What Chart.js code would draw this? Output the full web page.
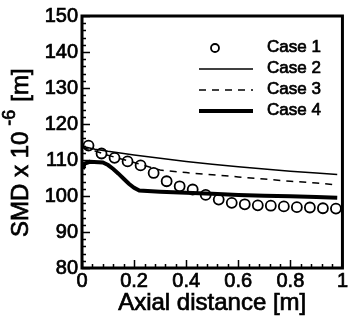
<!DOCTYPE html>
<html>
<head>
<meta charset="utf-8">
<script src="https://cdn.jsdelivr.net/npm/chart.js@4/dist/chart.umd.min.js"></script>
<style>
    html, body { margin: 0; padding: 0; background: #fff; }
    #wrap { width: 349px; height: 322px; position: relative; }
</style>
</head>
<body>
<div id="wrap"><canvas id="smdChart"></canvas></div>
<script>
// data
const case1X = [0.025, 0.075, 0.125, 0.175, 0.225, 0.275, 0.325, 0.375, 0.425, 0.475,
                0.525, 0.575, 0.625, 0.675, 0.725, 0.775, 0.825, 0.875, 0.925, 0.975];
const case1Y = [114.0, 111.8, 110.6, 109.6, 108.5, 106.4, 104.1, 102.7, 101.8, 100.3,
                99.0, 98.1, 97.7, 97.4, 97.3, 97.1, 96.9, 96.8, 96.6, 96.5];

const case2X = [0, 0.05, 0.1, 0.2, 0.3, 0.4, 0.5, 0.6, 0.7, 0.8, 0.9, 0.98];
const case2Y = [113.8, 113.0, 112.4, 111.4, 110.5, 109.6, 108.8, 108.1, 107.5, 106.9, 106.4, 106.0];

const case3X = [0, 0.05, 0.1, 0.2, 0.3, 0.4, 0.5, 0.6, 0.7, 0.8, 0.9, 0.98];
const case3Y = [113.5, 112.5, 111.3, 109.3, 107.2, 106.5, 105.9, 105.3, 104.7, 104.1, 103.6, 103.1];

const case4X = [0.003, 0.01, 0.03, 0.08, 0.1, 0.12, 0.14, 0.16, 0.18, 0.2, 0.22,
                0.3, 0.4, 0.5, 0.6, 0.7, 0.8, 0.9, 0.98];
const case4Y = [107.5, 109.0, 109.5, 109.3, 108.6, 107.5, 106.2, 104.8, 103.4, 102.3, 101.5,
                101.2, 100.9, 100.6, 100.3, 100.1, 99.9, 99.7, 99.5];

const seriesNames = ['Case 1', 'Case 2', 'Case 3', 'Case 4'];

const xTicks = [0, 0.2, 0.4, 0.6, 0.8, 1];
const xTickLabels = ['0', '0.2', '0.4', '0.6', '0.8', '1'];
const yTicks = [80, 90, 100, 110, 120, 130, 140, 150];
const yTickLabels = ['80', '90', '100', '110', '120', '130', '140', '150'];

const FONT = '"Liberation Sans", Arial, Helvetica, sans-serif';
const TEXT_STROKE = 0.7;

function toPoints(xs, ys) {
    return xs.map((x, i) => ({ x: x, y: ys[i] }));
}

// text with a light outline so it looks as heavy as the scanned original
function heavyText(ctx, str, x, y) {
    ctx.lineWidth = TEXT_STROKE;
    ctx.strokeText(str, x, y);
    ctx.fillText(str, x, y);
}

// frame, inward ticks, axis titles, legend
const decorPlugin = {
    id: 'decor',
    afterDraw(chart) {
        const { ctx, chartArea: a } = chart;
        const xs = chart.scales.x, ys = chart.scales.y;
        ctx.save();
        ctx.strokeStyle = '#000';
        ctx.fillStyle = '#000';

        // minor / major ticks pointing inside
        ctx.lineWidth = 1.5;
        ctx.beginPath();
        for (let v = 80; v <= 150; v += 2) {
            const py = Math.round(ys.getPixelForValue(v)) + 0.5;
            const len = (v % 10 === 0) ? 8 : 4;
            ctx.moveTo(a.left, py);
            ctx.lineTo(a.left + len, py);
        }
        for (let k = 0; k <= 25; k++) {
            const v = k * 0.04;
            const px = Math.round(xs.getPixelForValue(v)) + 0.5;
            const len = (k % 5 === 0) ? 8 : 4;
            ctx.moveTo(px, a.bottom);
            ctx.lineTo(px, a.bottom - len);
        }
        ctx.stroke();

        // frame
        ctx.lineWidth = 3;
        ctx.strokeRect(a.left, a.top, a.right - a.left, a.bottom - a.top);

        // x title
        ctx.font = '24px ' + FONT;
        ctx.textAlign = 'center';
        ctx.textBaseline = 'middle';
        heavyText(ctx, 'Axial distance [m]', (a.left + a.right) / 2, 303);

        // y title: SMD x 10^-6 [m]
        ctx.save();
        ctx.translate(21, 237);
        ctx.rotate(-Math.PI / 2);
        ctx.textAlign = 'left';
        const t1 = 'SMD x 10';
        heavyText(ctx, t1, 0, 0);
        let off = ctx.measureText(t1).width + 6;
        ctx.font = '18px ' + FONT;
        heavyText(ctx, '-6', off, -11);
        off += ctx.measureText('-6').width + 8;
        ctx.font = '24px ' + FONT;
        heavyText(ctx, '[m]', off, 0);
        ctx.restore();

        // legend
        ctx.font = '17px ' + FONT;
        ctx.textAlign = 'left';
        ctx.textBaseline = 'middle';
        const rows = [47, 68, 89, 110];
        const x0 = 199, x1 = 253, tx = 267;
        chart.data.datasets.forEach((ds, i) => {
            const y = rows[i];
            if (i === 0) {
                ctx.lineWidth = 1.8;
                ctx.beginPath();
                ctx.arc(215, y + 1, 4, 0, Math.PI * 2);
                ctx.stroke();
            } else {
                ctx.lineWidth = ds.borderWidth;
                ctx.setLineDash(ds.borderDash || []);
                ctx.beginPath();
                ctx.moveTo(x0, y + 1);
                ctx.lineTo(x1, y + 1);
                ctx.stroke();
                ctx.setLineDash([]);
            }
            heavyText(ctx, ds.label, tx, y);
        });
        ctx.restore();
    }
};

const config = {
    type: 'scatter',
    data: {
        datasets: [
            {
                label: seriesNames[0],
                data: toPoints(case1X, case1Y),
                showLine: false,
                pointStyle: 'circle',
                pointRadius: 5,
                pointBorderWidth: 1.8,
                pointBorderColor: '#000',
                pointBackgroundColor: 'rgba(0,0,0,0)',
                order: 0
            },
            {
                label: seriesNames[1],
                data: toPoints(case2X, case2Y),
                showLine: true,
                borderColor: '#000',
                borderWidth: 1.5,
                pointRadius: 0,
                tension: 0,
                order: 1
            },
            {
                label: seriesNames[2],
                data: toPoints(case3X, case3Y),
                showLine: true,
                borderColor: '#000',
                borderWidth: 1.5,
                borderDash: [7, 6],
                pointRadius: 0,
                tension: 0,
                order: 2
            },
            {
                label: seriesNames[3],
                data: toPoints(case4X, case4Y),
                showLine: true,
                borderColor: '#000',
                borderWidth: 4,
                pointRadius: 0,
                tension: 0,
                order: 3
            }
        ]
    },
    options: {
        responsive: true,
        maintainAspectRatio: false,
        animation: false,
        devicePixelRatio: 1,
        layout: {
            autoPadding: false,
            padding: { top: 14, right: 3, left: 0, bottom: 0 }
        },
        plugins: {
            legend: { display: false },
            tooltip: { enabled: false }
        },
        scales: {
            x: {
                type: 'linear',
                min: 0,
                max: 1,
                afterBuildTicks: function (scale) {
                    scale.ticks = xTicks.map(v => ({ value: v }));
                },
                afterFit: function (scale) {
                    scale.height = 54;
                },
                ticks: {
                    autoSkip: false,
                    maxRotation: 0,
                    padding: 1,
                    color: '#000',
                    textStrokeColor: '#000',
                    textStrokeWidth: TEXT_STROKE,
                    font: { family: FONT, size: 20 },
                    callback: function (value) {
                        return xTickLabels[xTicks.indexOf(value)];
                    }
                },
                grid: { display: false, drawTicks: false },
                border: { display: false }
            },
            y: {
                type: 'linear',
                min: 80,
                max: 150,
                afterBuildTicks: function (scale) {
                    scale.ticks = yTicks.map(v => ({ value: v }));
                },
                afterFit: function (scale) {
                    scale.width = 82;
                },
                ticks: {
                    autoSkip: false,
                    padding: 4,
                    color: '#000',
                    textStrokeColor: '#000',
                    textStrokeWidth: TEXT_STROKE,
                    font: { family: FONT, size: 20 },
                    callback: function (value) {
                        return yTickLabels[yTicks.indexOf(value)];
                    }
                },
                grid: { display: false, drawTicks: false },
                border: { display: false }
            }
        }
    },
    plugins: [decorPlugin]
};

new Chart(document.getElementById('smdChart'), config);
</script>
</body>
</html>
